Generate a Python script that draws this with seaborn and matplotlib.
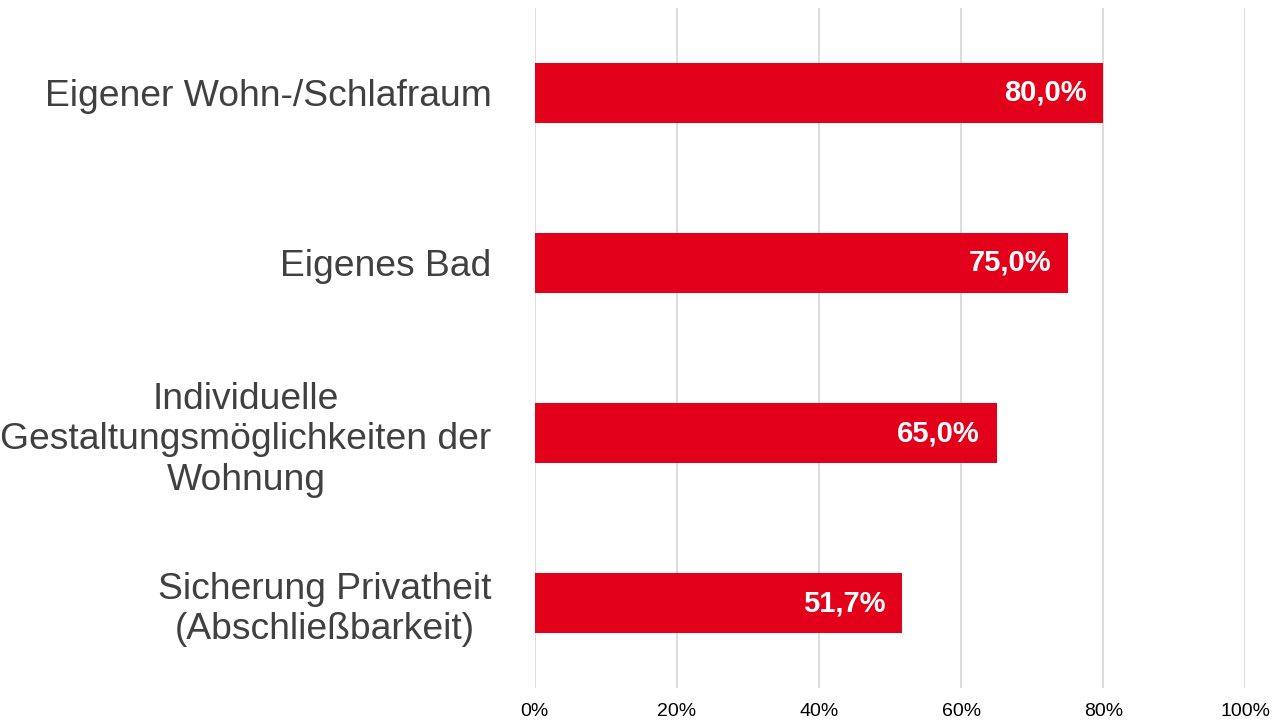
import pandas as pd
import seaborn as sns
import matplotlib.pyplot as plt
from matplotlib.ticker import FuncFormatter

# Daten
kategorien = [
    "Eigener Wohn-/Schlafraum",
    "Eigenes Bad",
    "Individuelle\nGestaltungsmöglichkeiten der\nWohnung",
    "Sicherung Privatheit\n(Abschließbarkeit)",
]
anteile = [80.0, 75.0, 65.0, 51.7]
x_ticks = [0, 20, 40, 60, 80, 100]

df = pd.DataFrame({"kategorie": kategorien, "anteil": anteile})

sns.set_style("white")
plt.rcParams["font.family"] = ["Liberation Sans", "DejaVu Sans"]

fig = plt.figure(figsize=(12.76, 7.25), dpi=100)
ax = fig.add_axes([0.419, 0.051, 0.557, 0.938])

sns.barplot(data=df, x="anteil", y="kategorie", orient="h",
            color="#e2001a", saturation=1, width=0.355, linewidth=0, ax=ax)

# Werte in den Balken
for i, v in enumerate(anteile):
    ax.annotate(f"{v:.1f}%".replace(".", ","), xy=(v, i), xytext=(-12, 0),
                textcoords="offset points", ha="right", va="center",
                color="white", fontsize=21, fontweight="bold")

ax.set_xlim(0, 100)
ax.set_ylim(3.5, -0.5)
ax.set_xticks(x_ticks)
ax.xaxis.set_major_formatter(FuncFormatter(lambda x, _: f"{x:.0f}%"))
ax.grid(axis="x", color="#d9d9d9", linewidth=1.3)
ax.set_axisbelow(True)
for s in ax.spines.values():
    s.set_visible(False)

ax.set_xlabel("")
ax.set_ylabel("")
ax.tick_params(axis="x", length=0, pad=11, labelsize=14, labelcolor="#000000")
ax.tick_params(axis="y", length=0, pad=31, labelsize=26.8, labelcolor="#404040")
for lbl in ax.get_yticklabels():
    lbl.set_multialignment("center")
    lbl.set_linespacing(1.2)

fig.savefig("out.png", dpi=100)
